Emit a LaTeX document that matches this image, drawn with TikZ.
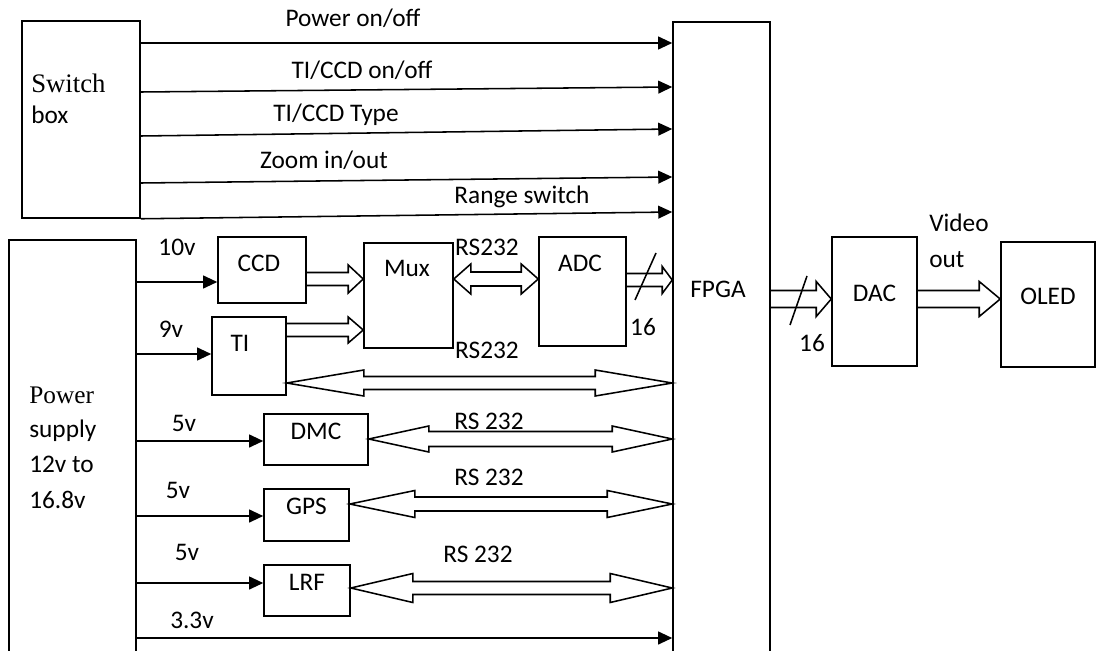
\documentclass[tikz,border=0pt]{standalone}
\usepackage{fontspec}
\setmainfont{Carlito}
\newfontfamily\timesfam{Liberation Serif}
\usetikzlibrary{arrows.meta,calc,fit}
\tikzset{
  blk/.style={rectangle, draw=black, line width=1.1pt, inner sep=0pt},
  lbl/.style={font=\fontsize{18}{21}\selectfont, inner sep=0pt},
  sig/.style={-{Triangle[length=3.5mm,width=3.2mm]}, line width=1.1pt},
  bus/.style={line width=1.1pt, line join=miter},
  slashmark/.style={line width=1.1pt}
}
\newcommand{\px}{0.025cm}
% hollow bus arrow, head on the right: from, to, y, half gap, half head, head length
\newcommand{\busone}[6]{%
  \draw[bus] let \p1=(#1 |- 0,#3), \p2=(#2 |- 0,#3) in
    (\x1,{\y1+#4*\px}) -- ({\x2-#6*\px},{\y1+#4*\px}) -- ({\x2-#6*\px},{\y1+#5*\px})
    -- (\x2,\y1) -- ({\x2-#6*\px},{\y1-#5*\px}) -- ({\x2-#6*\px},{\y1-#4*\px})
    -- (\x1,{\y1-#4*\px});}
% hollow bus arrow, heads on both ends
\newcommand{\bustwo}[6]{%
  \draw[bus] let \p1=(#1 |- 0,#3), \p2=(#2 |- 0,#3) in
    (\x1,\y1) -- ({\x1+#6*\px},{\y1+#5*\px}) -- ({\x1+#6*\px},{\y1+#4*\px})
    -- ({\x2-#6*\px},{\y1+#4*\px}) -- ({\x2-#6*\px},{\y1+#5*\px}) -- (\x2,\y1)
    -- ({\x2-#6*\px},{\y1-#5*\px}) -- ({\x2-#6*\px},{\y1-#4*\px})
    -- ({\x1+#6*\px},{\y1-#4*\px}) -- ({\x1+#6*\px},{\y1-#5*\px}) -- cycle;}
\begin{document}
\begin{tikzpicture}[x=0.025cm, y=-0.025cm]
\useasboundingbox (0,0) rectangle (1096,650);
% boxes
\node[blk, fit={(22,21) (140,218)}] (swbox) {};
\node[blk, fit={(9,240) (136,660)}] (psu) {};
\node[blk, fit={(673,22) (770,660)}] (fpga) {};
\node[blk, fit={(218,237) (306,303)}] (ccd) {};
\node[blk, fit={(212,317) (286,395)}] (ti) {};
\node[blk, fit={(364,243) (453,348)}] (mux) {};
\node[blk, fit={(539,237) (626,346)}] (adc) {};
\node[blk, fit={(264,414) (368,465)}, lbl] (dmc) {DMC};
\node[blk, fit={(264,489) (349,541)}, lbl] (gps) {GPS};
\node[blk, fit={(264,565) (350,616)}, lbl] (lrf) {LRF};
\node[blk, fit={(832,237) (917,366)}, lbl] (dac) {DAC};
\node[blk, fit={(1001,242) (1095,367)}, lbl] (oled) {OLED};
% box texts
\node[lbl, anchor=base west, font=\fontsize{19}{22}\timesfam] (swtxt) at (31,92) {Switch};
\node[lbl, anchor=base west] (swtxtb) at (31,123) {box};
\node[lbl, anchor=base west, font=\fontsize{18}{21}\timesfam] (psutxt) at (29,403) {Power};
\node[lbl, anchor=base west] (psutxtb) at (29,437) {supply};
\node[lbl, anchor=base west] (psutxtc) at (29,472) {12v to};
\node[lbl, anchor=base west] (psutxtd) at (29,508) {16.8v};
\node[lbl] (fpgatxt) at (718,289) {FPGA};
\node[lbl] (ccdtxt) at (259,263) {CCD};
\node[lbl] (titxt) at (240,343) {TI};
\node[lbl] (muxtxt) at (407,268) {Mux};
\node[lbl] (adctxt) at (580,263) {ADC};
% switch box signals
\draw[sig] (swbox.east |- 0,43) -- (fpga.west |- 0,43);
\draw[sig] (swbox.east |- 0,92) -- (fpga.west |- 0,87);
\draw[sig] (swbox.east |- 0,136) -- (fpga.west |- 0,129);
\draw[sig] (swbox.east |- 0,183) -- (fpga.west |- 0,177);
\draw[sig] (swbox.south east) -- (fpga.west |- 0,212);
\node[lbl] (lpow) at (353,18) {Power on/off};
\node[lbl] (lonoff) at (362,70) {TI/CCD on/off};
\node[lbl] (ltype) at (336,115) {TI/CCD Type};
\node[lbl] (lzoom) at (324,160) {Zoom in/out};
\node[lbl] (lrange) at (522,197) {Range switch};
% supply lines
\draw[sig] (psu.east |- 0,282) -- (ccd.west |- 0,282);
\draw[sig] (psu.east |- 0,354) -- (ti.west |- 0,354);
\draw[sig] (psu.east |- 0,441) -- (dmc.west |- 0,441);
\draw[sig] (psu.east |- 0,516) -- (gps.west |- 0,516);
\draw[sig] (psu.east |- 0,583) -- (lrf.west |- 0,583);
\draw[sig] (psu.east |- 0,638) -- (fpga.west |- 0,638);
\node[lbl] (l10v) at (177,247) {10v};
\node[lbl] (l9v) at (171,329) {9v};
\node[lbl] (l5va) at (184,423) {5v};
\node[lbl] (l5vb) at (178,490) {5v};
\node[lbl] (l5vc) at (187,552) {5v};
\node[lbl] (l33v) at (192,620) {3.3v};
% buses
\busone{ccd.east}{mux.west}{279}{6.5}{14}{15}
\busone{ti.east}{mux.west}{330}{6.5}{13}{15}
\bustwo{mux.east}{adc.west}{279}{7}{15}{17}
\busone{adc.east}{fpga.west}{280}{6.5}{13.5}{10}
\bustwo{ti.east}{fpga.west}{383}{6.5}{13}{77}
\bustwo{dmc.east}{fpga.west}{439}{7.5}{13}{60}
\bustwo{gps.east}{fpga.west}{504}{7}{13.5}{65}
\bustwo{lrf.east}{fpga.west}{588}{6.5}{14.5}{62}
\busone{fpga.east}{dac.west}{299}{8.5}{17.5}{15}
\busone{dac.east}{oled.west}{299}{8.5}{17.5}{21}
\draw[slashmark] (635,300) -- (656,253);
\draw[slashmark] (790,325) -- (807,276);
\node[lbl] (lrsa) at (487,247) {RS232};
\node[lbl] (lrsb) at (487,350) {RS232};
\node[lbl] (lrsc) at (489,421) {RS 232};
\node[lbl] (lrsd) at (489,477) {RS 232};
\node[lbl] (lrse) at (478,554) {RS 232};
\node[lbl] (l16a) at (643,327) {16};
\node[lbl] (l16b) at (812,343) {16};
\node[lbl, anchor=west] (lvid) at (929,223) {Video};
\node[lbl, anchor=west] (lout) at (929,260) {out};
\end{tikzpicture}
\end{document}
